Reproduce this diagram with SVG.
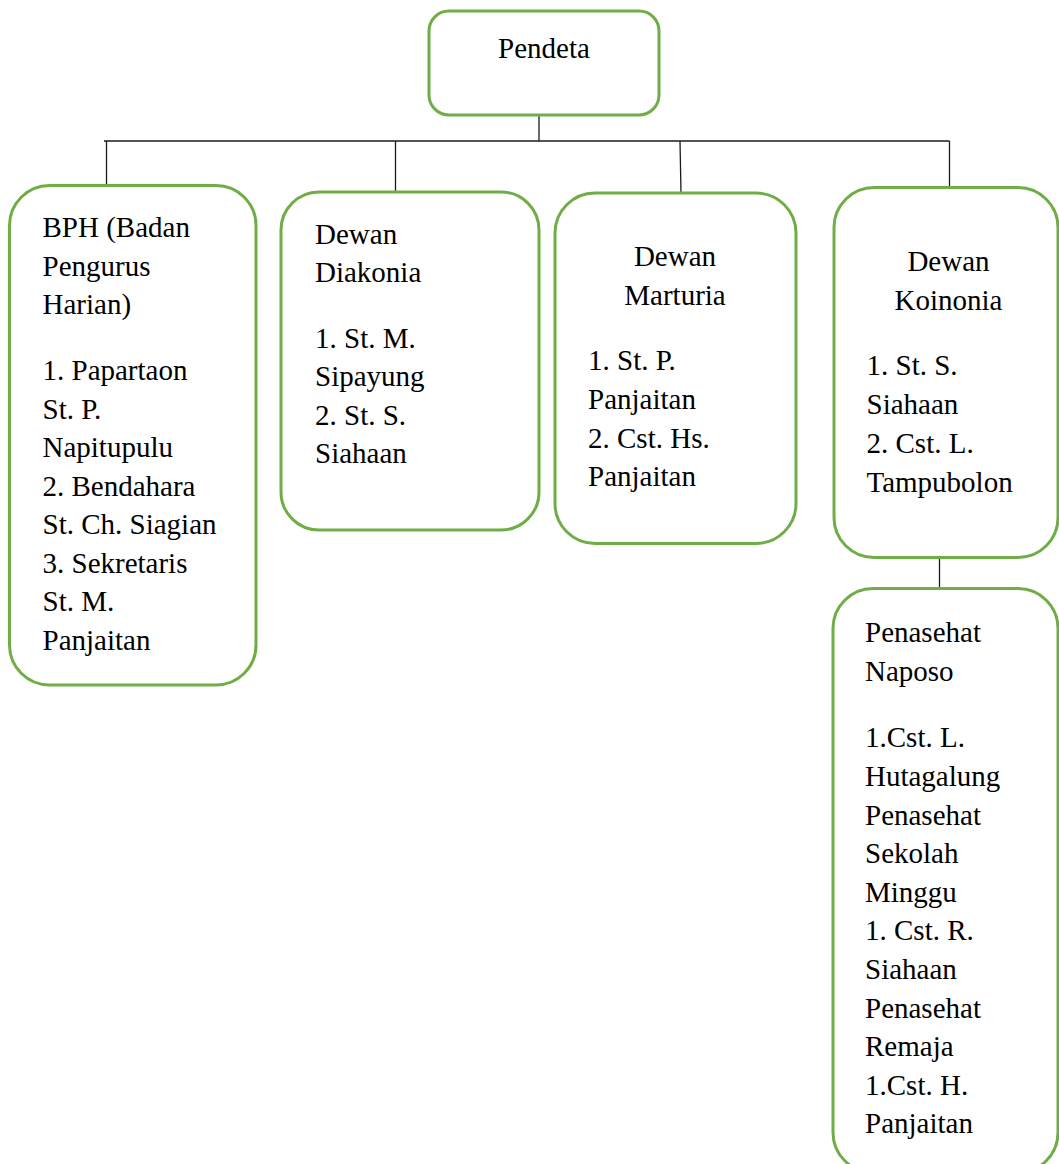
<svg xmlns="http://www.w3.org/2000/svg" width="1059" height="1164" viewBox="0 0 1059 1164">
<style>
.box{fill:#ffffff;stroke:#70AD47;stroke-width:3}
.t{font-family:"Liberation Serif","Times New Roman",serif;font-size:29px;fill:#000}
.c{text-anchor:middle}
.ln{stroke:#1a1a1a;stroke-width:1.3;fill:none}
</style>
<rect width="1059" height="1164" fill="#ffffff"/>
<g id="connectors">
<line class="ln" x1="104" y1="141" x2="949.5" y2="141"/>
<line class="ln" x1="539" y1="115" x2="539" y2="141"/>
<line class="ln" x1="106.5" y1="141" x2="106.5" y2="186"/>
<line class="ln" x1="395.5" y1="141" x2="395.5" y2="192"/>
<line class="ln" x1="680" y1="141" x2="681" y2="193"/>
<line class="ln" x1="949.5" y1="141" x2="949.5" y2="187"/>
<line class="ln" x1="939.5" y1="558" x2="939.5" y2="589"/>
</g>
<g id="pendeta">
<rect class="box" x="429" y="11" width="230" height="104" rx="20"/>
<text class="t c" x="544" y="58">Pendeta</text>
</g>
<g id="bph">
<rect class="box" x="9.5" y="185.5" width="246.5" height="499.5" rx="40"/>
<text class="t" x="42.5" y="237">BPH (Badan</text>
<text class="t" x="42.5" y="275.5">Pengurus</text>
<text class="t" x="42.5" y="314">Harian)</text>
<text class="t" x="42.5" y="380">1. Papartaon</text>
<text class="t" x="42.5" y="418.5">St. P.</text>
<text class="t" x="42.5" y="457">Napitupulu</text>
<text class="t" x="42.5" y="495.5">2. Bendahara</text>
<text class="t" x="42.5" y="534">St. Ch. Siagian</text>
<text class="t" x="42.5" y="572.5">3. Sekretaris</text>
<text class="t" x="42.5" y="611">St. M.</text>
<text class="t" x="42.5" y="649.5">Panjaitan</text>
</g>
<g id="diakonia">
<rect class="box" x="281" y="192" width="258" height="338" rx="38"/>
<text class="t" x="315" y="243.5">Dewan</text>
<text class="t" x="315" y="282">Diakonia</text>
<text class="t" x="315" y="347.5">1. St. M.</text>
<text class="t" x="315" y="386">Sipayung</text>
<text class="t" x="315" y="424.5">2. St. S.</text>
<text class="t" x="315" y="463">Siahaan</text>
</g>
<g id="marturia">
<rect class="box" x="555" y="193" width="241" height="350.5" rx="40"/>
<text class="t c" x="675" y="266">Dewan</text>
<text class="t c" x="675" y="305">Marturia</text>
<text class="t" x="588" y="370">1. St. P.</text>
<text class="t" x="588" y="408.5">Panjaitan</text>
<text class="t" x="588" y="447.5">2. Cst. Hs.</text>
<text class="t" x="588" y="486">Panjaitan</text>
</g>
<g id="koinonia">
<rect class="box" x="834" y="187.5" width="224" height="370" rx="40"/>
<text class="t c" x="948.5" y="271">Dewan</text>
<text class="t c" x="948.5" y="310">Koinonia</text>
<text class="t" x="866.5" y="375">1. St. S.</text>
<text class="t" x="866.5" y="414">Siahaan</text>
<text class="t" x="866.5" y="453">2. Cst. L.</text>
<text class="t" x="866.5" y="491.5">Tampubolon</text>
</g>
<g id="penasehat">
<rect class="box" x="833" y="588.5" width="225" height="584" rx="40"/>
<text class="t" x="865" y="642">Penasehat</text>
<text class="t" x="865" y="680.5">Naposo</text>
<text class="t" x="865" y="747.3">1.Cst. L.</text>
<text class="t" x="865" y="785.9">Hutagalung</text>
<text class="t" x="865" y="824.5">Penasehat</text>
<text class="t" x="865" y="863.1">Sekolah</text>
<text class="t" x="865" y="901.7">Minggu</text>
<text class="t" x="865" y="940.3">1. Cst. R.</text>
<text class="t" x="865" y="978.9">Siahaan</text>
<text class="t" x="865" y="1017.5">Penasehat</text>
<text class="t" x="865" y="1056.1">Remaja</text>
<text class="t" x="865" y="1094.7">1.Cst. H.</text>
<text class="t" x="865" y="1133.3">Panjaitan</text>
</g>
</svg>
